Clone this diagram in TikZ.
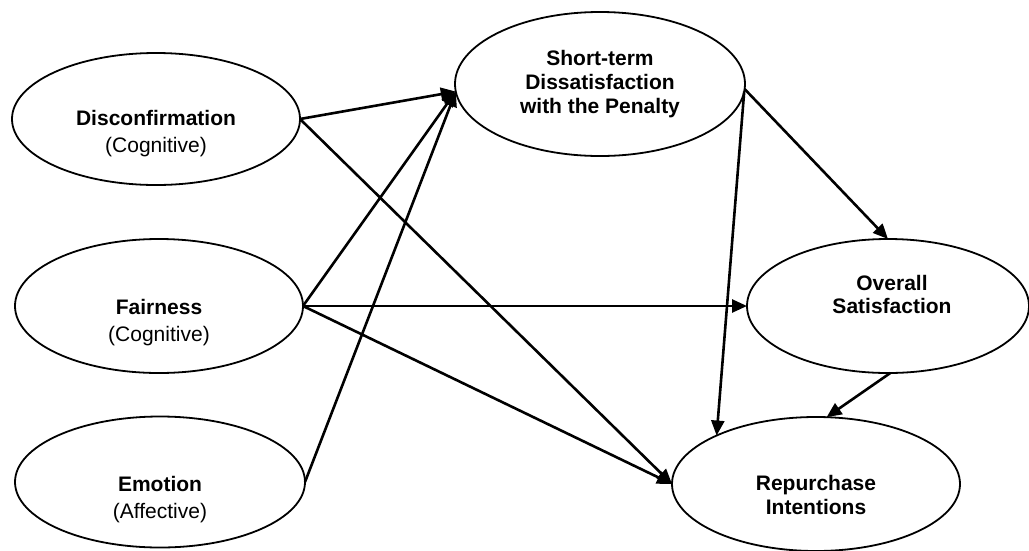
\documentclass[tikz,border=0pt]{standalone}
\usepackage{fontspec}
\setmainfont{Liberation Sans}
\usetikzlibrary{arrows.meta,shapes.geometric}
\begin{document}
\begin{tikzpicture}[x=1pt,y=-1pt,
  oval/.style={draw,ellipse,line width=1.8pt,inner sep=0pt,outer sep=0pt},
  lbl/.style={align=center,font=\fontsize{21}{24}\selectfont,inner sep=0pt},
  arr/.style={line width=2.6pt,-{Triangle[length=15pt,width=13pt]}}]
\useasboundingbox (0,0) rectangle (1029,550);
% ellipses
\node[oval,minimum width=288pt,minimum height=132pt] (disc) at (156,119) {};
\node[oval,minimum width=288pt,minimum height=134pt] (fair) at (159,306) {};
\node[oval,minimum width=290pt,minimum height=131pt] (emo) at (160,482) {};
\node[oval,minimum width=290pt,minimum height=144pt] (st) at (600,84) {};
\node[oval,minimum width=282pt,minimum height=134pt] (over) at (888,306) {};
\node[oval,minimum width=288pt,minimum height=134pt] (rep) at (816,484) {};
% labels
\node[lbl] (disct) at (156,133.5) {\textbf{Disconfirmation}\\[3pt](Cognitive)};
\node[lbl] (fairt) at (159,322.5) {\textbf{Fairness}\\[3pt](Cognitive)};
\node[lbl] (emot) at (160,499.5) {\textbf{Emotion}\\[3pt](Affective)};
\node[lbl] (stt) at (600,84) {\textbf{Short-term}\\\textbf{Dissatisfaction}\\\textbf{with the Penalty}};
\node[lbl] (overt) at (892,294.5) {\textbf{Overall}\\[-1pt]\textbf{Satisfaction}};
\node[lbl] (rept) at (816,495) {\textbf{Repurchase}\\\textbf{Intentions}};
% connectors
\draw[arr] (disc.east) -- (st.183);
\draw[arr] (fair.east) -- (st.183);
\draw[arr] (emo.east) -- (st.183);
\draw[arr] (disc.east) -- (rep.west);
\draw[arr] (fair.east) -- (rep.west);
\draw[arr] (fair.east) -- (over.west);
\draw[arr] (st.-2) -- (over.north);
\draw[arr] (st.-3) -- (rep.154);
\draw[arr] (over.272) -- (rep.81);
\end{tikzpicture}
\end{document}
